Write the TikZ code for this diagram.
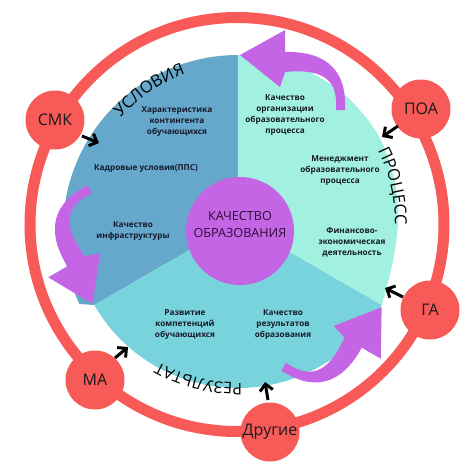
\documentclass[tikz,border=0pt]{standalone}
\usepackage{fontspec}
\setmainfont{Open Sans}
\usetikzlibrary{arrows.meta,decorations.text}
\definecolor{ringred}{HTML}{F85A58}
\definecolor{blueS}{HTML}{65A8CB}
\definecolor{mintS}{HTML}{A2F0E0}
\definecolor{cyanS}{HTML}{79D3DC}
\definecolor{purp}{HTML}{C465E6}
\definecolor{txt}{HTML}{16192A}
\definecolor{ktxt}{HTML}{2E0E38}
\begin{document}
\begin{tikzpicture}[x=1pt,y=1pt,
  redcirc/.style={circle, fill=ringred, minimum size=59pt, inner sep=0pt, font=\fontsize{16}{18}\selectfont, text=black!90},
  item/.style={align=center, font=\bfseries\fontsize{8.2}{11}\selectfont, text=txt},
  chev/.style={line width=3pt, -{Straight Barb[length=6.5pt,width=13pt]}, black},
  curvelabel/.style={decorate, decoration={text along path, text align=center, text color=black}},
  purparrow/.pic={\fill[purp] (2,167) -- (47,192) -- (47,170) .. controls (90,171) and (109,150) .. (107,112) -- (98,112) .. controls (100,140) and (88,154) .. (47,150) -- (42,135) -- cycle;}
]
\fill[white] (-238,-247) rectangle (236,222);
\useasboundingbox (-238,-247) rectangle (236,222);

% outer ring
\draw[ringred, line width=11pt] (-1,-2.5) circle[radius=207pt];

% red circles
\node[redcirc] (smk) at (-183,102) {СМК};
\node[redcirc] (poa) at (183,113) {ПОА};
\node[redcirc] (ga) at (192,-88) {ГА};
\node[redcirc] (ma) at (-143,-158) {МА};
\node[redcirc] (dr) at (32,-210) {Другие};

% pie sectors
\fill[blueS] (0,0) -- (0,167) arc[start angle=90, end angle=205, radius=175pt] -- (210:166pt) -- cycle;
\fill[cyanS] (0,0) -- (210:166pt) arc[start angle=210, end angle=330, radius=166pt] -- cycle;
\fill[mintS] (0,0) -- plot[smooth] coordinates {(90:167pt) (70:167pt) (50:166pt) (32:165pt) (15:162pt) (0:160pt) (-15:160pt) (-30:166pt)} -- cycle;

% purple cycle arrows
\pic at (0,0) {purparrow};
\pic[rotate=120] at (0,0) {purparrow};
\pic[rotate=240] at (0,0) {purparrow};

% centre
\node[circle, fill=purp, minimum size=108pt, inner sep=0pt] (kc) at (2,-9) {};
\node[align=center, font=\fontsize{12.6}{17}\selectfont, text=ktxt] (kl) at (2,-2) {КАЧЕСТВО\\ОБРАЗОВАНИЯ};

% items
\node[item] (i1) at (-61,100) {Характеристика\\контингента\\обучающихся};
\node[item] (i2) at (-92,53) {Кадровые условия(ППС)};
\node[item] (i3) at (-105,-9) {Качество\\инфраструктуры};
\node[item] (i4) at (47,107) {Качество\\организации\\образовательного\\процесса};
\node[item] (i5) at (102,51) {Менеджмент\\образовательного\\процесса};
\node[item] (i6) at (114,-20) {Финансово-\\экономическая\\деятельность};
\node[item] (i7) at (-53,-103) {Развитие\\компетенций\\обучающихся};
\node[item] (i8) at (45,-103) {Качество\\результатов\\образования};

% curved labels
\path[curvelabel, decoration={text={|\fontsize{16.5}{16}\selectfont|УСЛОВИЯ}}] (150:157pt) arc[start angle=150, end angle=98, radius=157pt];
\path[curvelabel, decoration={text={|\fontsize{16.5}{16}\selectfont|ПРОЦЕСС}}] (40:157pt) arc[start angle=40, end angle=-14, radius=157pt];
\path[curvelabel, decoration={text={|\fontsize{16}{16}\selectfont|РЕЗУЛЬТАТ}}] (282:161pt) arc[start angle=282, end angle=230, radius=161pt];

% chevrons
\coordinate (smk-s) at (-156,86); \coordinate (smk-t) at (-139,79);
\coordinate (poa-s) at (160,96); \coordinate (poa-t) at (144,85);
\coordinate (ga-s) at (165,-75); \coordinate (ga-t) at (147,-66);
\coordinate (ma-s) at (-123,-136); \coordinate (ma-t) at (-110,-125);
\coordinate (dr-s) at (30,-178); \coordinate (dr-t) at (27,-160);
\draw[chev] (smk-s) -- (smk-t);
\draw[chev] (poa-s) -- (poa-t);
\draw[chev] (ga-s) -- (ga-t);
\draw[chev] (ma-s) -- (ma-t);
\draw[chev] (dr-s) -- (dr-t);
\end{tikzpicture}
\end{document}
